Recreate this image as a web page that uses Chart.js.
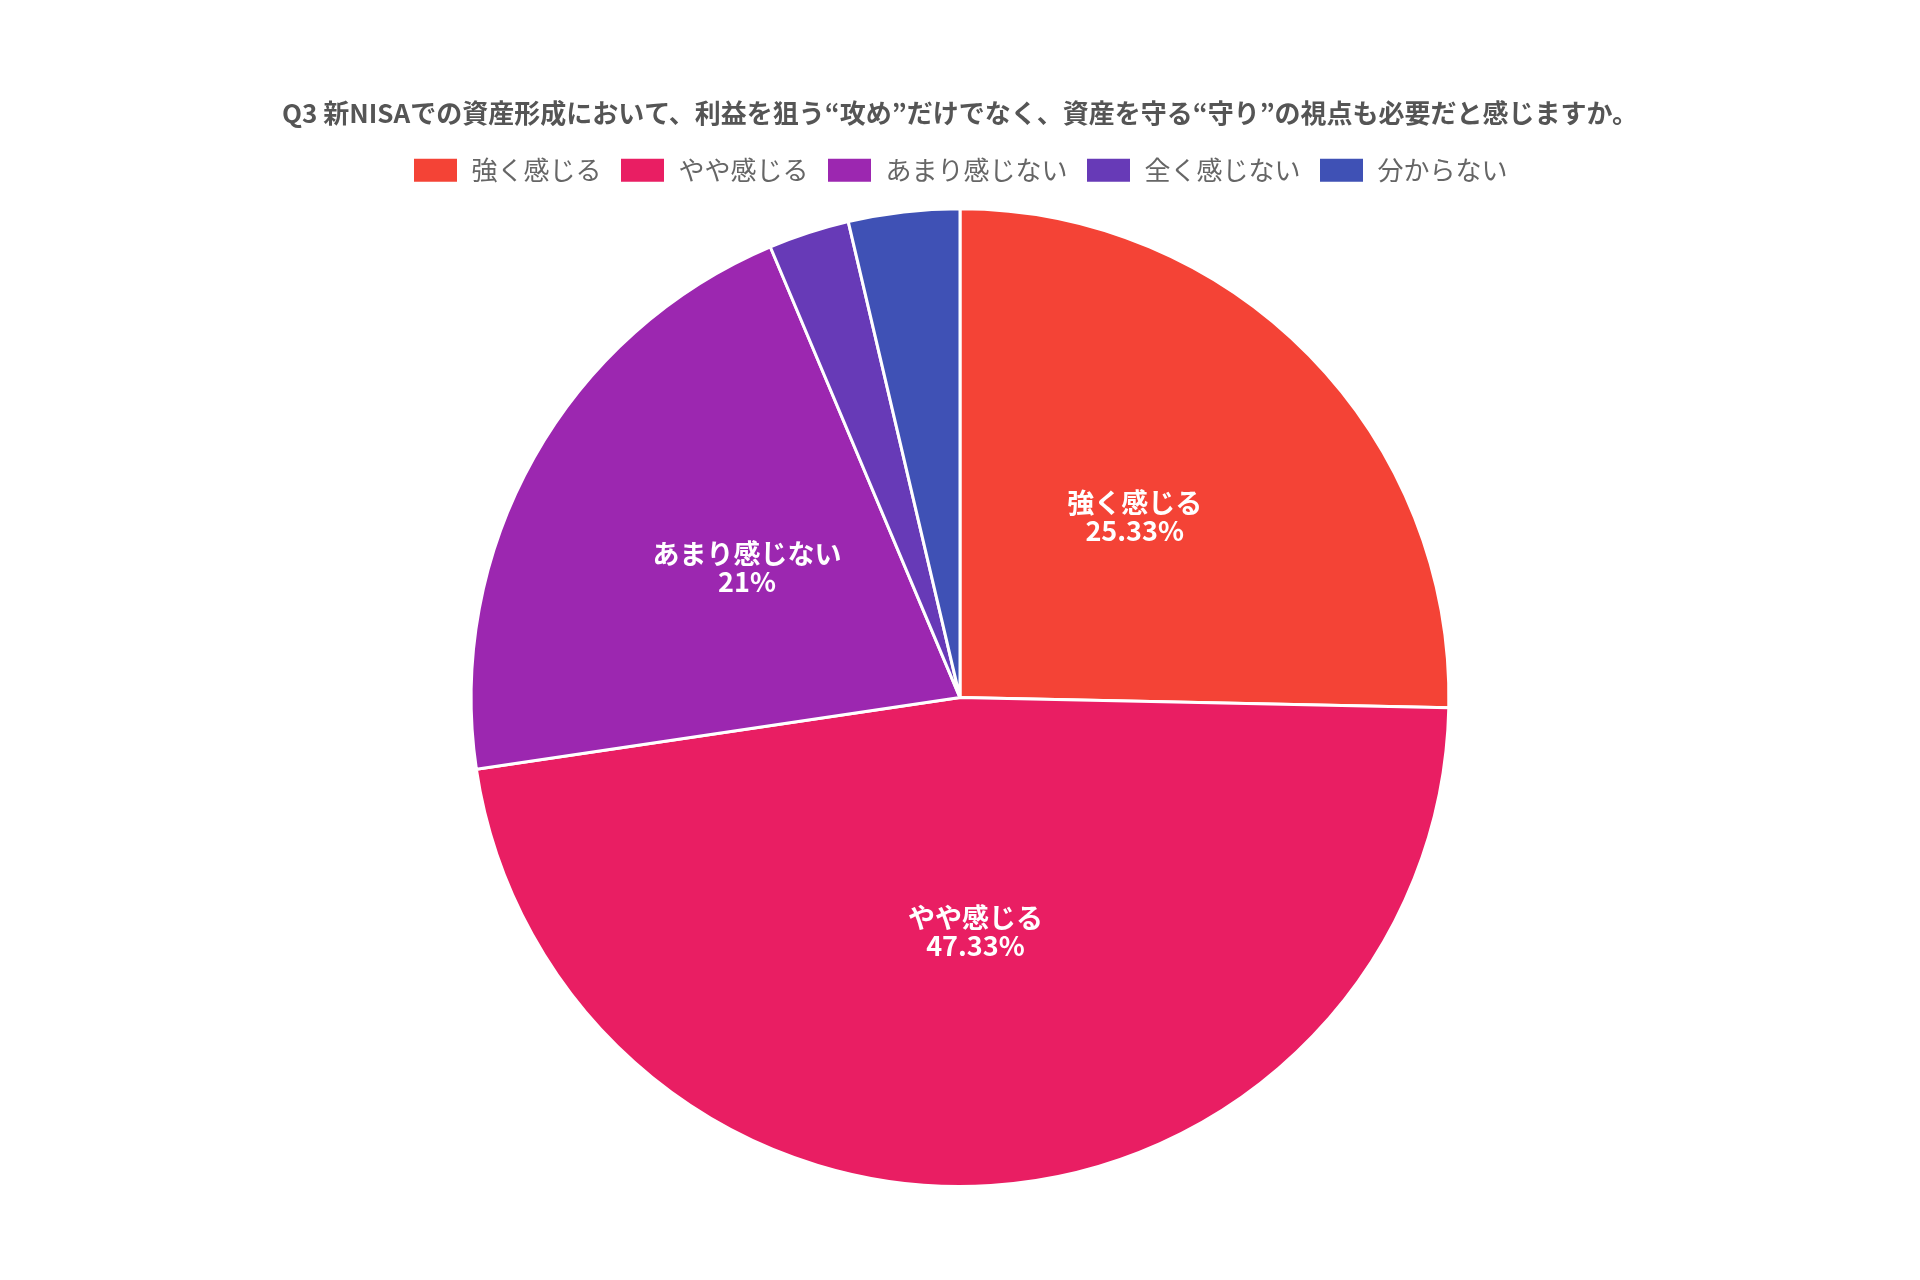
<!DOCTYPE html>
<html lang="ja">
<head>
  <meta charset="UTF-8" />
  <title>Q3 新NISA 攻めと守り</title>
  <script src="https://cdn.jsdelivr.net/npm/chart.js"></script>
  <style>
    body {
      margin: 0;
      background: #ffffff;
      overflow: hidden;
    }
    #wrap {
      width: 1920px;
      height: 1280px;
    }
  </style>
</head>
<body>
  <div id="wrap"><canvas id="myChart"></canvas></div>

  <script>
    const titulo = "Q3 新NISAでの資産形成において、利益を狙う“攻め”だけでなく、資産を守る“守り”の視点も必要だと感じますか。";
    const categorias = ["強く感じる", "やや感じる", "あまり感じない", "全く感じない", "分からない"];
    const valores = [25.33, 47.33, 21, 2.67, 3.67];
    const colores = ["#F44336", "#E91E63", "#9C27B0", "#673AB7", "#3F51B5"];

    const fuente = "'Noto Sans CJK JP', 'Noto Sans', sans-serif";

    // etiquetas blancas dentro de cada porción (solo las grandes)
    const etiquetasPlugin = {
      id: 'sliceLabels',
      afterDatasetsDraw: (chart) => {
        const ctx = chart.ctx;
        const meta = chart.getDatasetMeta(0);
        ctx.save();
        ctx.fillStyle = "#ffffff";
        ctx.textAlign = "center";
        ctx.textBaseline = "middle";
        ctx.font = "bold 27px " + fuente;
        meta.data.forEach((arc, i) => {
          const v = valores[i];
          if (v < 5) return;
          const p = arc.getProps(['startAngle', 'endAngle', 'outerRadius', 'x', 'y'], true);
          const mid = (p.startAngle + p.endAngle) / 2;
          const r = p.outerRadius * 0.5;
          const x = p.x + Math.cos(mid) * r;
          const y = p.y + Math.sin(mid) * r - 10;
          ctx.fillText(categorias[i], x, y - 14);
          ctx.fillText(v + "%", x, y + 14);
        });
        ctx.restore();
      }
    };

    // un poco de espacio extra debajo de la leyenda
    const margenLeyenda = {
      id: 'legendMargin',
      beforeInit: (chart) => {
        const fit = chart.legend.fit;
        chart.legend.fit = function () {
          fit.bind(chart.legend)();
          this.height += 14;
        };
      }
    };

    new Chart(document.getElementById("myChart"), {
      type: "pie",
      data: {
        labels: categorias,
        datasets: [{
          data: valores,
          backgroundColor: colores,
          borderColor: "#ffffff",
          borderWidth: 3
        }]
      },
      options: {
        responsive: true,
        maintainAspectRatio: false,
        animation: false,
        layout: {
          padding: { top: 98, bottom: 92, left: 0, right: 0 }
        },
        plugins: {
          title: {
            display: true,
            text: titulo,
            color: "#555555",
            font: { family: fuente, size: 26, weight: "bold" },
            padding: { top: 0, bottom: 10 }
          },
          legend: {
            position: "top",
            labels: {
              color: "#666666",
              font: { family: fuente, size: 26 },
              boxWidth: 46,
              boxHeight: 26,
              padding: 18
            }
          },
          tooltip: { enabled: false }
        }
      },
      plugins: [etiquetasPlugin, margenLeyenda]
    });
  </script>
</body>
</html>
